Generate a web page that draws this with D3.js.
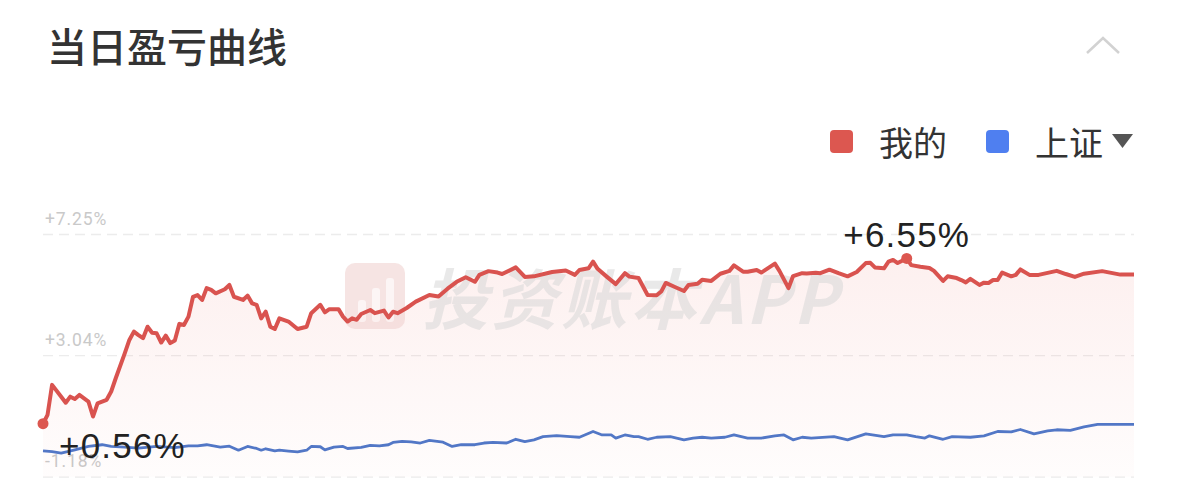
<!DOCTYPE html>
<html>
<head>
<meta charset="utf-8">
<script src="https://cdn.jsdelivr.net/npm/d3@7/dist/d3.min.js"></script>
<style>
  html, body { margin: 0; padding: 0; background: #fff; }
  svg { display: block; }
</style>
</head>
<body>
<svg id="chart" width="1178" height="501"></svg>
<script>
// ---------- data ----------
const title = "当日盈亏曲线";
const seriesNames = ["我的", "上证"];
const seriesColors = ["#dc5750", "#4f7ff0"];
const lineColors = ["#d9534f", "#5277c6"];

const yTicks = [7.25, 3.04, -1.18];
const yTickLabels = ["+7.25%", "+3.04%", "-1.18%"];

// trading minutes since open (0..240)
const myMinutes = [0,1,2,4,5,6,7,8,10,11,12,14,15,16,18,19,20,21,22,23,24,25,26,27,28,29,30,31,32,33,34,35,36,37,38,40,41,42,44,45,46,47,48,49,50,51,52,54,56,58,59,61,62,63,65,66,67,68,69,70,72,73,75,76,77,78,80,82,85,87,89,91,93,95,96,98,100,101,104,106,108,112,115,117,118,120,121,122,124,126,128,129,131,133,135,136,137,139,141,142,144,145,147,149,151,152,154,155,157,158,161,162,164,165,167,168,170,171,173,175,177,179,181,182,183,185,186,187,188,190,191,193,195,196,198,199,201,202,203,204,206,207,208,209,210,211,213,214,215,217,219,223,225,227,229,233,235,237,240];
const myPct = [0.66,0.97,2.01,1.60,1.39,1.60,1.52,1.66,1.43,0.91,1.37,1.49,1.78,2.24,3.11,3.57,3.86,3.74,3.63,4.03,3.82,3.80,3.48,3.72,3.46,3.55,4.13,4.09,4.38,5.07,5.13,4.96,5.37,5.31,5.19,5.33,5.48,5.07,4.96,5.11,4.84,4.79,4.32,4.55,4.03,3.95,4.32,4.21,3.95,4.03,4.50,4.79,4.53,4.64,4.64,4.38,4.21,4.32,4.27,4.47,4.61,4.50,4.59,4.35,4.55,4.50,4.68,4.90,5.13,5.08,5.35,5.59,5.75,5.59,5.83,5.96,5.91,5.86,6.09,5.76,5.78,5.93,5.98,5.83,6.00,6.06,6.29,6.04,5.77,5.51,5.89,5.77,5.72,5.13,5.12,5.25,5.55,5.41,5.27,5.48,5.52,5.66,5.62,5.87,5.97,6.16,5.94,5.94,6.00,5.91,6.22,5.97,5.37,5.79,5.89,5.88,5.90,5.89,6.01,5.89,5.78,5.93,6.24,6.25,6.09,6.06,6.29,6.35,6.24,6.40,6.17,6.11,6.07,5.97,5.62,5.78,5.72,5.65,5.57,5.69,5.48,5.56,5.55,5.65,5.65,5.91,5.78,5.83,6.02,5.83,5.83,5.97,5.86,5.76,5.87,5.96,5.90,5.84,5.84];

const shMinutes = [0,2,4,7,10,13,15,18,21,25,29,32,34,36,39,41,43,45,47,48,49,51,52,54,56,58,59,61,62,64,66,67,70,72,74,76,77,79,81,83,85,88,90,92,95,97,99,102,104,106,108,110,113,116,118,121,123,125,126,128,130,131,133,135,138,141,143,145,147,150,152,155,158,161,163,165,167,169,174,177,181,185,187,190,192,194,195,198,200,204,207,210,213,215,218,221,223,226,229,232,240];
const shPct = [-0.28,-0.31,-0.36,-0.25,-0.13,-0.07,-0.13,-0.15,-0.19,-0.13,-0.17,-0.11,-0.11,-0.07,-0.15,-0.12,-0.26,-0.13,-0.20,-0.26,-0.21,-0.28,-0.26,-0.29,-0.32,-0.26,-0.13,-0.14,-0.25,-0.15,-0.13,-0.20,-0.16,-0.09,-0.11,-0.07,0.01,0.05,0.03,-0.01,0.08,0.02,-0.13,-0.07,-0.07,-0.01,0.01,-0.01,0.12,0.04,0.10,0.21,0.25,0.21,0.19,0.39,0.27,0.27,0.16,0.27,0.21,0.21,0.12,0.19,0.21,0.10,0.16,0.19,0.16,0.19,0.27,0.16,0.16,0.24,0.27,0.10,0.19,0.16,0.21,0.10,0.31,0.21,0.27,0.27,0.21,0.16,0.24,0.12,0.21,0.19,0.24,0.39,0.38,0.46,0.31,0.41,0.45,0.43,0.55,0.64,0.64];

const annotations = ["+0.56%", "+6.55%"];
const watermark = "投资账本APP";

// ---------- setup ----------
const svg = d3.select("#chart");
const plot = { left: 43, right: 1134, top: 234, bottom: 476.7 };

const x = d3.scaleLinear().domain([0, 240]).range([plot.left, plot.right]);
const y = d3.scaleLinear().domain([yTicks[2], yTicks[0]]).range([plot.bottom, plot.top]);

const my = myMinutes.map((m, i) => ({ m, v: myPct[i] }));
const sh = shMinutes.map((m, i) => ({ m, v: shPct[i] }));

// ---------- header ----------
svg.append("text")
  .attr("x", 47).attr("y", 62)
  .attr("font-family", "'Noto Sans CJK SC', sans-serif")
  .attr("font-size", 40).attr("font-weight", 500)
  .attr("fill", "#333")
  .text(title);

svg.append("path")
  .attr("d", d3.line()([[1087, 53], [1103, 38], [1119, 53]]))
  .attr("fill", "none").attr("stroke", "#d2d2d2").attr("stroke-width", 2.5);

// legend
const legendX = [830, 986];
const legend = svg.append("g");
seriesNames.forEach((n, i) => {
  legend.append("rect")
    .attr("x", legendX[i]).attr("y", 130).attr("width", 23).attr("height", 23)
    .attr("rx", 4).attr("fill", seriesColors[i]);
  legend.append("text")
    .attr("x", legendX[i] + 49).attr("y", 156)
    .attr("font-family", "'Noto Sans CJK SC', sans-serif")
    .attr("font-size", 34).attr("fill", "#333")
    .text(n);
});
svg.append("path")
  .attr("d", d3.line()([[1112, 134], [1133, 134], [1122.5, 148]]) + "Z")
  .attr("fill", "#555");

// ---------- defs ----------
const defs = svg.append("defs");
const grad = defs.append("linearGradient").attr("id", "fillGrad")
  .attr("x1", 0).attr("y1", 0).attr("x2", 0).attr("y2", 1);
grad.append("stop").attr("offset", "0%").attr("stop-color", "#e8564d").attr("stop-opacity", 0.09);
grad.append("stop").attr("offset", "100%").attr("stop-color", "#e8564d").attr("stop-opacity", 0.015);

// ---------- grid ----------
const grid = svg.append("g")
  .attr("transform", `translate(${plot.left},0)`)
  .call(d3.axisRight(y).tickValues(yTicks).tickSize(plot.right - plot.left)
    .tickFormat((d, i) => yTickLabels[i]));
grid.select(".domain").remove();
grid.selectAll(".tick line")
  .attr("stroke", "#ececec").attr("stroke-width", 1.3)
  .attr("stroke-dasharray", "10,6");
grid.selectAll(".tick text")
  .attr("x", 2).attr("dy", -10)
  .attr("font-family", "Roboto, sans-serif")
  .attr("font-size", 17.5).attr("letter-spacing", 0.9).attr("fill", "#c9c9c9")
  .attr("text-anchor", "start");

// ---------- area ----------
svg.append("path")
  .datum(my)
  .attr("d", d3.area().x(d => x(d.m)).y0(plot.bottom).y1(d => y(d.v)))
  .attr("fill", "url(#fillGrad)");

// watermark
const wm = svg.append("g").attr("opacity", 0.55);
wm.append("rect").attr("x", 345).attr("y", 263).attr("width", 60).attr("height", 66)
  .attr("rx", 10).attr("fill", "#f0cfcd");
[[358, 300, 8, 22], [372, 288, 8, 34], [386, 278, 8, 44]].forEach(b => {
  wm.append("rect").attr("x", b[0]).attr("y", b[1]).attr("width", b[2]).attr("height", b[3])
    .attr("rx", 3).attr("fill", "#fbeeee");
});
wm.append("text")
  .attr("x", 422).attr("y", 324)
  .attr("font-family", "'Noto Sans CJK SC', sans-serif")
  .attr("font-size", 66).attr("font-weight", 700).attr("font-style", "italic")
  .attr("fill", "#d8d8d8")
  .attr("textLength", 415)
  .text(watermark);

// ---------- lines ----------
const line = d3.line().x(d => x(d.m)).y(d => y(d.v));
svg.append("path").datum(sh)
  .attr("d", line).attr("fill", "none")
  .attr("stroke", lineColors[1]).attr("stroke-width", 2.8)
  .attr("stroke-linejoin", "round");
svg.append("path").datum(my)
  .attr("d", line).attr("fill", "none")
  .attr("stroke", lineColors[0]).attr("stroke-width", 4)
  .attr("stroke-linejoin", "round");

// ---------- markers & annotations ----------
const first = my[0];
const maxPt = my.reduce((a, b) => (b.v > a.v ? b : a));
[first, maxPt].forEach(p => {
  svg.append("circle").attr("cx", x(p.m)).attr("cy", y(p.v)).attr("r", 5.5)
    .attr("fill", seriesColors[0]);
});
svg.append("text")
  .attr("x", x(first.m) + 16).attr("y", y(first.v) + 34)
  .attr("font-family", "'Liberation Sans', Arial, sans-serif")
  .attr("font-size", 35).attr("letter-spacing", 1.2).attr("fill", "#222")
  .text(annotations[0]);
svg.append("text")
  .attr("x", x(maxPt.m)).attr("y", y(maxPt.v) - 11)
  .attr("text-anchor", "middle")
  .attr("font-family", "'Liberation Sans', Arial, sans-serif")
  .attr("font-size", 35).attr("letter-spacing", 1.2).attr("fill", "#222")
  .text(annotations[1]);
</script>
</body>
</html>
